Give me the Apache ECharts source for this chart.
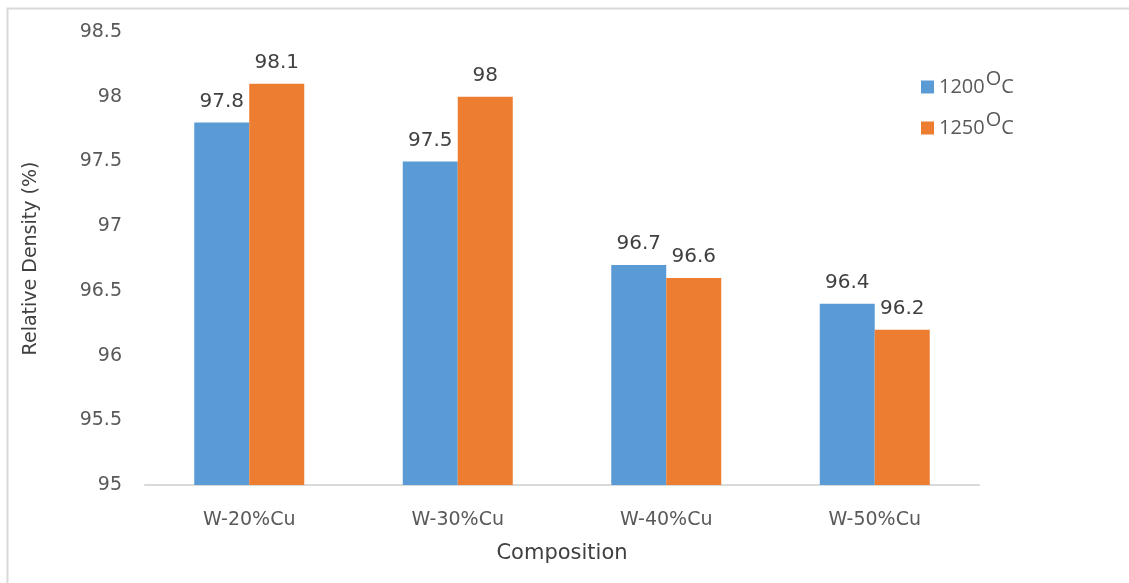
<!DOCTYPE html>
<html>
<head>
<meta charset="utf-8">
<script src="https://cdn.jsdelivr.net/npm/echarts@6/dist/echarts.min.js"></script>
<style>
  html, body { margin: 0; padding: 0; background: #fff; }
  #chart { width: 1129px; height: 583px; }
</style>
</head>
<body>
<div id="chart"></div>
<script>
// Relative density of W-Cu composites at two sintering temperatures
const categories = ['W-20%Cu', 'W-30%Cu', 'W-40%Cu', 'W-50%Cu'];
const density1200 = [97.8, 97.5, 96.7, 96.4];
const density1250 = [98.1, 98.0, 96.6, 96.2];
const seriesNames = ['1200', '1250'];
const yMin = 95, yMax = 98.5, yStep = 0.5;

const FONT = '"DejaVu Sans", "Open Sans", sans-serif';
const LEGEND_FONT = '"Open Sans", "Noto Sans", sans-serif';
const chart = echarts.init(document.getElementById('chart'), null, { renderer: 'canvas' });

const labelStyle = {
  show: true,
  position: 'top',
  distance: 11,
  color: '#404040',
  fontSize: 20,
  fontFamily: FONT
};

chart.setOption({
  animation: false,
  backgroundColor: '#ffffff',
  graphic: [{
    type: 'rect',
    shape: { x: 7.5, y: 8.5, width: 1200, height: 700 },
    style: { fill: 'none', stroke: '#d9d9d9', lineWidth: 2 },
    silent: true
  }],
  grid: { left: 145, right: 150, top: 32, bottom: 98 },
  legend: {
    orient: 'vertical',
    left: 916,
    top: 64,
    itemWidth: 13,
    itemHeight: 13,
    itemGap: 13,
    icon: 'rect',
    formatter: name => name + '{sup|O}{c|C}',
    textStyle: {
      fontFamily: LEGEND_FONT,
      fontSize: 20,
      color: '#595959',
      rich: {
        sup: { fontSize: 20, color: '#595959', fontFamily: LEGEND_FONT, padding: [0, 0, 16, 1] },
        c: { fontSize: 20, color: '#595959', fontFamily: LEGEND_FONT }
      }
    },
    data: seriesNames
  },
  xAxis: {
    type: 'category',
    data: categories,
    name: 'Composition',
    nameLocation: 'middle',
    nameGap: 58,
    nameTextStyle: { fontFamily: FONT, fontSize: 21, color: '#404040' },
    axisLine: { lineStyle: { color: '#d9d9d9', width: 2 } },
    axisTick: { show: false },
    axisLabel: { fontFamily: FONT, fontSize: 19, color: '#595959', margin: 26 }
  },
  yAxis: {
    type: 'value',
    min: yMin,
    max: yMax,
    interval: yStep,
    name: 'Relative Density (%)',
    nameLocation: 'middle',
    nameGap: 104,
    nameTextStyle: { fontFamily: FONT, fontSize: 19, color: '#404040' },
    axisLine: { show: false },
    axisTick: { show: false },
    splitLine: { show: false },
    axisLabel: { fontFamily: FONT, fontSize: 19, color: '#595959', margin: 23 }
  },
  series: [
    {
      name: seriesNames[0],
      type: 'bar',
      data: density1200,
      barWidth: 55,
      barGap: '0%',
      itemStyle: { color: '#5b9bd5' },
      label: labelStyle
    },
    {
      name: seriesNames[1],
      type: 'bar',
      data: density1250,
      barWidth: 55,
      barGap: '0%',
      itemStyle: { color: '#ed7d31' },
      label: labelStyle
    }
  ]
});
</script>
</body>
</html>
